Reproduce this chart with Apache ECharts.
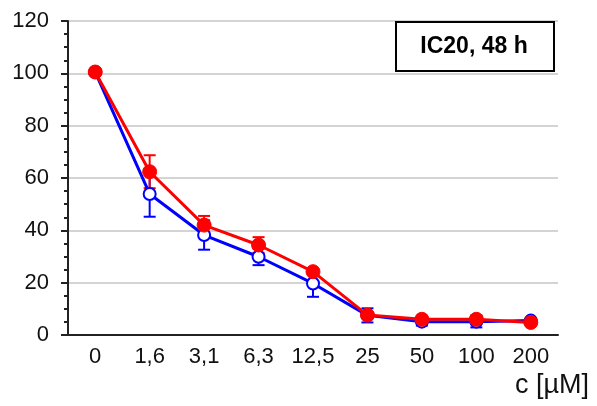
<!DOCTYPE html>
<html>
<head>
<meta charset="utf-8">
<script src="https://cdn.jsdelivr.net/npm/echarts@6/dist/echarts.min.js"></script>
<style>
    html, body { margin: 0; padding: 0; background: #fff; }
    #chart { width: 597px; height: 406px; }
</style>
</head>
<body>
<div id="chart"></div>
<script>
// concentrations (x categories)
const categories = ['0', '1,6', '3,1', '6,3', '12,5', '25', '50', '100', '200'];
const yTicks = [0, 20, 40, 60, 80, 100, 120];

// blue series (open circles)
const blueValues = [100.5, 53.9, 38.2, 29.9, 19.7, 7.5, 5.1, 5.1, 5.5];
const blueErrors = [0.5, 8.7, 5.6, 3.2, 5.1, 2.7, 1.5, 2.2, 0.8];

// red series (filled circles)
const redValues = [100.5, 62.4, 42.0, 34.4, 24.2, 7.6, 6.0, 6.0, 4.8];
const redErrors = [0.5, 6.3, 3.5, 3.0, 1.0, 1.0, 1.0, 1.5, 1.0];

const FONT = 'Liberation Sans, Arial, sans-serif';

function errorSeries(values, errors, color) {
    return {
        type: 'custom',
        silent: true,
        data: values.map((v, i) => [i, v - errors[i], v + errors[i]]),
        renderItem: function (params, api) {
            const lo = api.coord([api.value(0), api.value(1)]);
            const hi = api.coord([api.value(0), api.value(2)]);
            const cap = 6;
            const style = { stroke: color, lineWidth: 2 };
            return {
                type: 'group',
                children: [
                    { type: 'line', shape: { x1: lo[0], y1: lo[1], x2: hi[0], y2: hi[1] }, style: style },
                    { type: 'line', shape: { x1: lo[0] - cap, y1: lo[1], x2: lo[0] + cap, y2: lo[1] }, style: style },
                    { type: 'line', shape: { x1: hi[0] - cap, y1: hi[1], x2: hi[0] + cap, y2: hi[1] }, style: style }
                ]
            };
        }
    };
}

const chart = echarts.init(document.getElementById('chart'), null, { renderer: 'canvas' });

chart.setOption({
    animation: false,
    textStyle: { fontFamily: FONT },
    grid: { left: 68, right: 39, top: 21, bottom: 71, containLabel: false },
    xAxis: {
        type: 'category',
        data: categories,
        boundaryGap: true,
        axisLine: { lineStyle: { color: '#222', width: 2 } },
        axisTick: { alignWithLabel: true, length: 7, lineStyle: { color: '#222', width: 2 } },
        axisLabel: { color: '#111', fontSize: 22, fontFamily: FONT, margin: 11, interval: 0 },
        splitLine: { show: false }
    },
    yAxis: {
        type: 'value',
        min: yTicks[0],
        max: yTicks[yTicks.length - 1],
        interval: 20,
        axisLine: { show: true, lineStyle: { color: '#222', width: 2 } },
        axisTick: { show: true, length: 7, lineStyle: { color: '#222', width: 2 } },
        minorTick: { show: true, splitNumber: 4, length: 4, lineStyle: { color: '#222', width: 2 } },
        axisLabel: { color: '#111', fontSize: 22, fontFamily: FONT, margin: 19 },
        splitLine: { show: true, lineStyle: { color: '#d4d4d4', width: 2 } }
    },
    graphic: [
        {
            type: 'rect',
            z: 100,
            shape: { x: 396, y: 22, width: 158, height: 49 },
            style: { fill: '#fff', stroke: '#000', lineWidth: 2 }
        },
        {
            type: 'text',
            z: 101,
            x: 474,
            y: 47,
            style: {
                text: 'IC20, 48 h',
                font: 'bold 23px ' + FONT,
                fill: '#000',
                align: 'center',
                verticalAlign: 'middle'
            }
        },
        {
            type: 'text',
            x: 589,
            y: 386,
            style: {
                text: 'c [\u00b5M]',
                font: '27px ' + FONT,
                fill: '#111',
                align: 'right',
                verticalAlign: 'middle'
            }
        }
    ],
    series: [
        errorSeries(blueValues, blueErrors, '#0000ff'),
        {
            name: 'blue',
            type: 'line',
            data: blueValues,
            symbol: 'circle',
            symbolSize: 12,
            showAllSymbol: true,
            lineStyle: { color: '#0000ff', width: 3 },
            itemStyle: { color: '#fff', borderColor: '#0000ff', borderWidth: 2 }
        },
        errorSeries(redValues, redErrors, '#ff0000'),
        {
            name: 'red',
            type: 'line',
            data: redValues,
            symbol: 'circle',
            symbolSize: 14,
            showAllSymbol: true,
            lineStyle: { color: '#ff0000', width: 3 },
            itemStyle: { color: '#ff0000', borderColor: '#ff0000', borderWidth: 1 }
        }
    ]
});
</script>
</body>
</html>
